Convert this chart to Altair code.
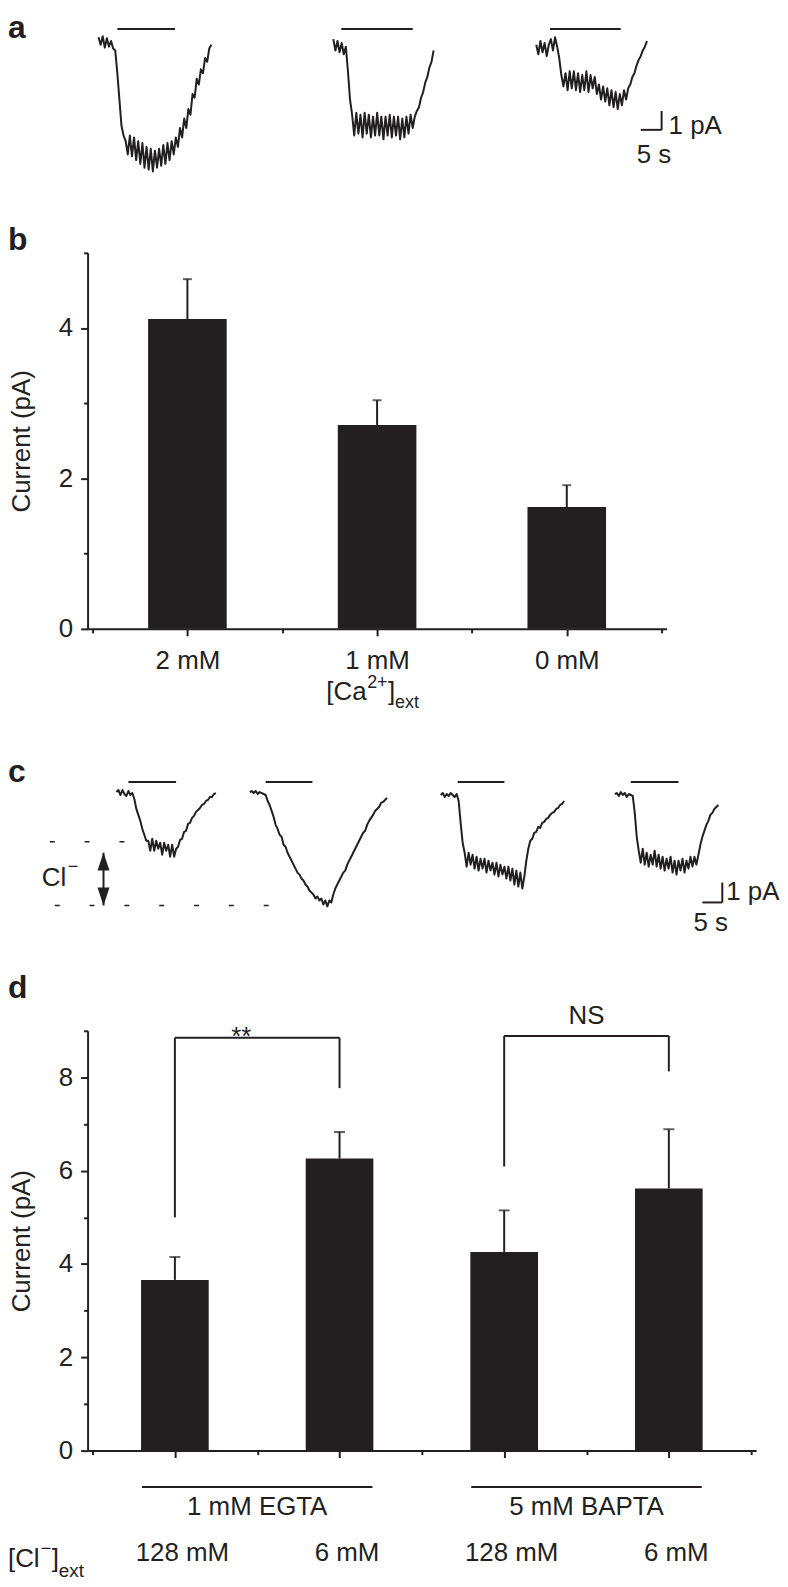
import json
import altair as alt
import pandas as pd

FONT = "Liberation Sans"
INK = "#231f20"
DT = 0.5  # s between samples of the example traces

# ---------------- panel a: example currents (pA), one sample every 0.5 s ----------------
a_trace1 = [0.3, -0.1, 0.35, -0.25, 0.25, -0.2, 0.1, -0.3,
            -0.4, -1.6, -3.0, -4.4, -4.9, -5.2,
            -5.9, -4.9, -6.0, -5.0, -6.2, -5.2, -6.4, -5.3, -6.6, -5.5, -6.7, -5.6,
            -6.8, -5.7, -6.6, -5.6, -6.5, -5.4, -6.4, -5.3, -6.2, -5.2, -5.9,
            -5.0, -5.5, -4.5, -5.0, -4.0, -4.5, -3.5, -3.8, -2.7, -2.9, -1.9, -2.2,
            -1.4, -1.6, -0.8, -1.0, -0.3, -0.1]
a_trace2 = [0.2, -0.4, 0.1, -0.5, 0.0, -0.6, -0.2,
            -1.5, -3.0, -3.8,
            -4.9, -3.7, -4.8, -3.8, -5.0, -3.7, -4.8, -3.8, -5.0, -3.9,
            -4.9, -3.7, -4.9, -3.9, -5.1, -3.9, -4.9, -3.8, -5.0, -3.9,
            -4.9, -3.9, -5.1, -4.0, -5.0, -3.9, -4.8, -3.8, -4.5,
            -3.9, -3.6, -3.4, -2.9, -2.6, -2.1, -1.8, -1.3, -1.0, -0.4]
a_trace3 = [-0.1, -0.6, 0.1, -0.5, 0.0, -0.7, -0.1, 0.2, -0.4, 0.3, -0.2,
            -0.8, -1.7, -2.3,
            -1.6, -2.5, -1.5, -2.4, -1.5, -2.5, -1.6, -2.6, -1.7, -2.5, -1.5, -2.6,
            -1.7, -2.4, -1.8, -2.7,
            -2.2, -3.0, -2.3, -3.1, -2.4, -3.3, -2.5, -3.4, -2.6, -3.5, -2.7, -3.3,
            -2.5, -3.0,
            -2.4, -2.2, -1.8, -1.6, -1.2, -0.9, -0.7, -0.4, -0.2, 0.1]
a_stim = [[4.5, 18.3], [1.9, 19.0], [3.3, 20.2]]   # s from trace start
a_stim_level = 0.74                                  # pA (drawn above traces)

# ---------------- panel c: example currents (pA), one sample every 0.5 s ----------------
c_trace1 = [0.05, 0.15, -0.1, 0.15, -0.05, -0.15, 0.1, -0.1, 0.0,
            -0.3, -0.8, -1.1, -1.4, -1.8, -2.1, -2.4,
            -2.4, -2.9, -2.3, -2.9, -2.4, -2.8, -2.5, -3.1, -2.5, -2.9, -2.6, -3.2,
            -2.6, -3.2, -2.8,
            -2.7, -2.35, -2.3, -1.95, -1.9, -1.55, -1.5, -1.25, -1.15, -0.95,
            -0.85, -0.75, -0.6, -0.55, -0.4, -0.35, -0.2, -0.2, -0.05, 0.0]
c_trace2 = [0.05, 0.1, 0.0, 0.1, -0.05, 0.05, 0.0, -0.05,
            -0.1, -0.4, -0.6, -0.9, -1.2, -1.6, -1.8, -2.1, -2.2, -2.6,
            -2.7, -3.0, -3.2, -3.4, -3.6, -3.8, -4.0, -4.1, -4.3, -4.4,
            -4.6, -4.7, -4.9, -5.0, -5.1, -5.3, -5.2, -5.4, -5.3, -5.6,
            -5.4, -5.7, -5.4, -5.5, -5.1, -4.8, -4.6, -4.4, -4.2, -4.0,
            -3.9, -3.6, -3.4, -3.2, -3.0, -2.8, -2.6, -2.4, -2.2, -2.0,
            -1.9, -1.6, -1.4, -1.25, -1.1, -0.9, -0.8, -0.7, -0.5, -0.45,
            -0.35, -0.25]
c_trace3 = [-0.1, 0.0, -0.2, -0.05, -0.15, 0.0, -0.1, -0.2, -0.05,
            -0.4, -1.5, -2.5, -3.0,
            -3.7, -3.0, -3.6, -3.1, -3.8, -3.2, -3.9, -3.3, -3.8, -3.3,
            -4.0, -3.4, -3.9, -3.5, -4.1, -3.5, -4.2, -3.6, -4.1, -3.7,
            -4.3, -3.7, -4.4, -3.8, -4.6, -3.9, -4.7, -4.0, -4.8,
            -4.2, -3.4, -2.8, -2.4, -2.3, -2.0, -1.95, -1.7, -1.75, -1.5,
            -1.45, -1.3, -1.25, -1.1, -1.0, -0.95, -0.8, -0.75, -0.6, -0.55, -0.4]
c_trace4 = [-0.05, 0.0, -0.15, 0.05, -0.1, 0.0, -0.2, -0.05, -0.1, -0.15,
            -1.0, -2.2, -2.9,
            -3.5, -2.8, -3.6, -3.0, -3.7, -3.1, -3.6, -2.9, -3.7, -3.1,
            -3.8, -3.2, -3.9, -3.3, -3.8, -3.2, -4.0, -3.4, -4.1, -3.4,
            -3.9, -3.3, -4.0, -3.4, -3.8, -3.2, -3.7, -3.2, -3.6,
            -3.1, -2.6, -2.2, -1.9, -1.6, -1.4, -1.1, -1.0, -0.8, -0.7, -0.6]
c_stim = [[3.0, 15.0], [4.0, 15.75], [4.25, 16.0], [4.0, 16.0]]
c_stim_level = 0.55
c_ref_levels = [-2.45, -5.65]     # dashed reference levels (pA)
c_arrow = [-3.0, -5.65]           # Cl- arrow extent (pA)

scale_bar_s = 5
scale_bar_pA = 1

# ---------------- panel b ----------------
b_categories = ["2 mM", "1 mM", "0 mM"]
b_means = [4.12, 2.71, 1.62]
b_sem = [0.53, 0.33, 0.29]

# ---------------- panel d ----------------
d_chloride = ["128 mM", "6 mM", "128 mM", "6 mM"]
d_buffers = ["1 mM EGTA", "5 mM BAPTA"]
d_buffer_of = [0, 0, 1, 1]
d_means = [3.66, 6.26, 4.26, 5.62]
d_sem = [0.49, 0.57, 0.89, 1.27]
d_sig_labels = ["**", "NS"]
d_sig_pairs = [[0, 1], [2, 3]]
d_sig_level = [8.85, 8.89]
d_sig_left_end = [5.0, 6.09]
d_sig_right_end = [7.77, 8.13]

# ---------------- layout ----------------
A_W, A_H = 690, 241
B_W, B_H = 582, 378
C_W, C_H = 690, 404
D_W, D_H = 672, 422
A_X0, A_PXS = [11, 247, 451], 4.2
C_X0, C_PXS = [29, 163, 355, 530], 4.0
A_SB_X0, C_SB_X0 = 556, 618
A_Y = alt.Scale(domain=[-7, 1], range=[163, 11], nice=False, zero=False)
C_Y = alt.Scale(domain=[-6, 1], range=[285, 145], nice=False, zero=False)
D_GROUP_LINE = -0.78      # y (in pA units of panel d) of the buffer group lines
D_BAR_HALF = 0.2          # half bar width in category units
UP_HEAD = "M0,0L0.67,2L-0.67,2Z"
DOWN_HEAD = "M0,0L0.67,-2L-0.67,-2Z"
TRACE_W = 2.0


def text_at(s, x, y, size=26, baseline="alphabetic", align="left", weight="normal"):
    return alt.Chart(pd.DataFrame({"s": [s]})).mark_text(
        align=align, baseline=baseline, fontSize=size, fontWeight=weight,
        font=FONT, color=INK
    ).encode(text="s:N", x=alt.value(x), y=alt.value(y))


def letter(ch, y):
    return text_at(ch, -80, y, size=32, baseline="top", weight="bold")


def trace(values, stim, level, x0, pxs, yscale):
    n = len(values)
    dur = (n - 1) * DT
    df = pd.DataFrame({"t": [i * DT for i in range(n)], "I": values})
    xs = alt.Scale(domain=[0, dur], range=[x0, x0 + dur * pxs], nice=False, zero=False)
    line = alt.Chart(df).mark_line(color=INK, strokeWidth=TRACE_W, strokeJoin="round").encode(
        x=alt.X("t:Q", scale=xs, axis=None),
        y=alt.Y("I:Q", scale=yscale, axis=None),
    )
    sdf = pd.DataFrame({"on": [stim[0]], "off": [stim[1]], "lvl": [level]})
    bar = alt.Chart(sdf).mark_rule(color=INK, strokeWidth=2).encode(
        x=alt.X("on:Q", scale=xs, axis=None), x2="off:Q",
        y=alt.Y("lvl:Q", scale=yscale, axis=None),
    )
    return alt.layer(line, bar)


def scalebar(x0, pxs, y_bottom, yscale, dx1, dy1, dx5, dy5):
    sdf = pd.DataFrame({"t0": [0], "t1": [scale_bar_s], "i0": [y_bottom],
                        "i1": [y_bottom + scale_bar_pA]})
    xs = alt.Scale(domain=[0, scale_bar_s], range=[x0, x0 + scale_bar_s * pxs],
                   nice=False, zero=False)
    base = alt.Chart(sdf)
    h = base.mark_rule(color=INK, strokeWidth=2).encode(
        x=alt.X("t0:Q", scale=xs, axis=None), x2="t1:Q",
        y=alt.Y("i0:Q", scale=yscale, axis=None))
    v = base.mark_rule(color=INK, strokeWidth=2).encode(
        x=alt.X("t1:Q", scale=xs, axis=None),
        y=alt.Y("i0:Q", scale=yscale, axis=None), y2="i1:Q")
    l1 = base.mark_text(text=f"{scale_bar_pA} pA", align="left", baseline="alphabetic",
                        dx=dx1, dy=dy1, fontSize=26, font=FONT, color=INK).encode(
        x=alt.X("t1:Q", scale=xs, axis=None), y=alt.Y("i0:Q", scale=yscale, axis=None))
    l5 = base.mark_text(text=f"{scale_bar_s} s", align="left", baseline="top",
                        dx=dx5, dy=dy5, fontSize=26, font=FONT, color=INK).encode(
        x=alt.X("t0:Q", scale=xs, axis=None), y=alt.Y("i0:Q", scale=yscale, axis=None))
    return alt.layer(h, v, l1, l5)


def cat_axis(cats, label_padding, label_offset=0):
    vals = [k * 0.5 for k in range(2 * len(cats) + 1)]
    return alt.Axis(
        values=vals,
        labelExpr=f"datum.value % 1 == 0.5 ? {json.dumps(cats)}[floor(datum.value)] : ''",
        tickSize={"condition": {"test": "datum.value % 1 == 0.5", "value": 7}, "value": 4},
        labelPadding=label_padding, labelOffset=label_offset, labelFlush=False,
        labelOverlap=False, grid=False, title=None, labelAngle=0,
    )


def val_axis(vmax, title_y):
    return alt.Axis(
        values=list(range(vmax + 1)),
        labelExpr="datum.value % 2 == 0 ? datum.label : ''",
        tickSize={"condition": {"test": "datum.value % 2 == 0", "value": 7}, "value": 4},
        labelPadding=8, labelFlush=False, labelOverlap=False, grid=False,
        title="Current (pA)", titleX=-66, titleY=title_y, titleAngle=270,
        titleBaseline="middle", titleAlign="center", titleFontWeight="normal",
    )


class BarPanel:
    def __init__(self, cats, vmax, height, label_padding, label_offset):
        self.xs = alt.Scale(domain=[0, len(cats)], nice=False, zero=False)
        self.ys = alt.Scale(domain=[0, vmax], nice=False)
        self.xa = cat_axis(cats, label_padding, label_offset)
        self.ya = val_axis(vmax, height / 2)

    def X(self, field):
        return alt.X(field, scale=self.xs, axis=self.xa, title=None)

    def Y(self, field):
        return alt.Y(field, scale=self.ys, axis=self.ya, title="Current (pA)")

    def bars(self, cats, means, sems, bar_px, cap_px):
        df = pd.DataFrame({
            "cat": cats,
            "pos": [i + 0.5 for i in range(len(cats))],
            "mean": means,
            "top": [m + s for m, s in zip(means, sems)],
        })
        bars = alt.Chart(df).mark_bar(size=bar_px, color=INK).encode(
            x=self.X("pos:Q"), y=self.Y("mean:Q"))
        err = alt.Chart(df).mark_rule(color=INK, strokeWidth=2).encode(
            x=self.X("pos:Q"), y=self.Y("mean:Q"), y2="top:Q")
        cap = alt.Chart(df).mark_tick(color=INK, orient="horizontal", size=cap_px,
                                      thickness=2).encode(
            x=self.X("pos:Q"), y=self.Y("top:Q"))
        return [bars, err, cap]


# ---------------- panel a ----------------
pa_layers = [trace(v, s, a_stim_level, x0, A_PXS, A_Y)
             for v, s, x0 in zip([a_trace1, a_trace2, a_trace3], a_stim, A_X0)]
pa_layers.append(scalebar(A_SB_X0, A_PXS, -4.6, A_Y, 7, 4, -4, 12))
pa_layers.append(letter("a", 0))
panel_a = alt.layer(*pa_layers).resolve_scale(x="independent").properties(width=A_W, height=A_H)

# ---------------- panel b ----------------
pb = BarPanel(b_categories, 5, B_H, 12, 0)
b_layers = pb.bars(b_categories, b_means, b_sem, 79, 9)
b_layers += [
    letter("b", -28),
    text_at("[Ca", 240, 449),
    text_at("2+", 281, 437, size=18),
    text_at("]", 302, 449),
    text_at("ext", 309, 458, size=18),
]
panel_b = alt.layer(*b_layers).properties(width=B_W, height=B_H)

# ---------------- panel c ----------------
pc_layers = [trace(v, s, c_stim_level, x0, C_PXS, C_Y)
             for v, s, x0 in zip([c_trace1, c_trace2, c_trace3, c_trace4], c_stim, C_X0)]
pc_layers.append(scalebar(C_SB_X0, C_PXS, -5.5, C_Y, 4, -2, -9, 8))
ref_df = pd.DataFrame({"lvl": c_ref_levels})
pc_layers.append(alt.Chart(ref_df.iloc[[0]]).mark_rule(
    color=INK, strokeWidth=1.6, strokeDash=[5, 30]).encode(
    x=alt.value(-38), x2=alt.value(40), y=alt.Y("lvl:Q", scale=C_Y, axis=None)))
pc_layers.append(alt.Chart(ref_df.iloc[[1]]).mark_rule(
    color=INK, strokeWidth=1.6, strokeDash=[5, 30]).encode(
    x=alt.value(-33), x2=alt.value(190), y=alt.Y("lvl:Q", scale=C_Y, axis=None)))
arrow_df = pd.DataFrame({"top": [c_arrow[0]], "bottom": [c_arrow[1]]})
pc_layers.append(alt.Chart(arrow_df).mark_rule(color=INK, strokeWidth=2).encode(
    x=alt.value(16), y=alt.Y("top:Q", scale=C_Y, axis=None), y2="bottom:Q"))
pc_layers.append(alt.Chart(arrow_df).mark_point(
    shape=UP_HEAD, size=324, filled=True, color=INK, opacity=1).encode(
    x=alt.value(16), y=alt.Y("top:Q", scale=C_Y, axis=None)))
pc_layers.append(alt.Chart(arrow_df).mark_point(
    shape=DOWN_HEAD, size=324, filled=True, color=INK, opacity=1).encode(
    x=alt.value(16), y=alt.Y("bottom:Q", scale=C_Y, axis=None)))
pc_layers += [
    text_at("Cl", -46, 258),
    text_at("\u2212", -20, 244, size=18),
    letter("c", 129),
]
panel_c = alt.layer(*pc_layers).resolve_scale(x="independent").properties(width=C_W, height=C_H)

# ---------------- panel d ----------------
pd_ = BarPanel(d_chloride, 9, D_H, 82, 7)
d_layers = pd_.bars(d_chloride, d_means, d_sem, 68, 11)
sig_df = pd.DataFrame({
    "label": d_sig_labels,
    "xl": [p[0] + 0.5 for p in d_sig_pairs],
    "xr": [p[1] + 0.5 for p in d_sig_pairs],
    "xm": [(p[0] + p[1]) / 2 + 0.5 for p in d_sig_pairs],
    "y": d_sig_level,
    "yl": d_sig_left_end,
    "yr": d_sig_right_end,
})
sig = alt.Chart(sig_df)
d_layers += [
    sig.mark_rule(color=INK, strokeWidth=2).encode(
        x=pd_.X("xl:Q"), x2="xr:Q", y=pd_.Y("y:Q")),
    sig.mark_rule(color=INK, strokeWidth=2).encode(
        x=pd_.X("xl:Q"), y=pd_.Y("y:Q"), y2="yl:Q"),
    sig.mark_rule(color=INK, strokeWidth=2).encode(
        x=pd_.X("xr:Q"), y=pd_.Y("y:Q"), y2="yr:Q"),
    sig.transform_filter(alt.datum.label == "**").mark_text(
        fontSize=26, font=FONT, color=INK, baseline="alphabetic", dx=-16, dy=7).encode(
        text="label:N", x=pd_.X("xm:Q"), y=pd_.Y("y:Q")),
    sig.transform_filter(alt.datum.label == "NS").mark_text(
        fontSize=26, font=FONT, color=INK, baseline="alphabetic", dy=-12).encode(
        text="label:N", x=pd_.X("xm:Q"), y=pd_.Y("y:Q")),
]
grp_rows = []
for g, name in enumerate(d_buffers):
    idx = [i for i, b in enumerate(d_buffer_of) if b == g]
    grp_rows.append({"name": name,
                     "x0": min(idx) + 0.5 - D_BAR_HALF,
                     "x1": max(idx) + 0.5 + D_BAR_HALF,
                     "xm": (min(idx) + max(idx)) / 2 + 0.5,
                     "yl": D_GROUP_LINE})
grp_df = pd.DataFrame(grp_rows)
d_layers += [
    alt.Chart(grp_df).mark_rule(color=INK, strokeWidth=2).encode(
        x=pd_.X("x0:Q"), x2="x1:Q", y=pd_.Y("yl:Q")),
    alt.Chart(grp_df).mark_text(fontSize=26, font=FONT, color=INK, baseline="alphabetic").encode(
        text="name:N", x=pd_.X("xm:Q"), y=alt.value(487)),
    letter("d", -58),
    text_at("[Cl", -80, 539),
    text_at("\u2212", -47, 526, size=18),
    text_at("]", -36, 539),
    text_at("ext", -29, 549, size=19),
]
panel_d = alt.layer(*d_layers).properties(width=D_W, height=D_H)

chart = alt.vconcat(panel_a, panel_b, panel_c, panel_d, spacing=0, bounds="flush").properties(
    padding=0
).configure(font=FONT).configure_view(stroke=None).configure_axis(
    domainColor=INK, tickColor=INK, labelColor=INK, titleColor=INK,
    labelFont=FONT, titleFont=FONT, labelFontSize=26, titleFontSize=26,
    domainWidth=2, tickWidth=2, grid=False,
)

chart.save("out.html", embed_options={"renderer": "svg", "actions": False})
